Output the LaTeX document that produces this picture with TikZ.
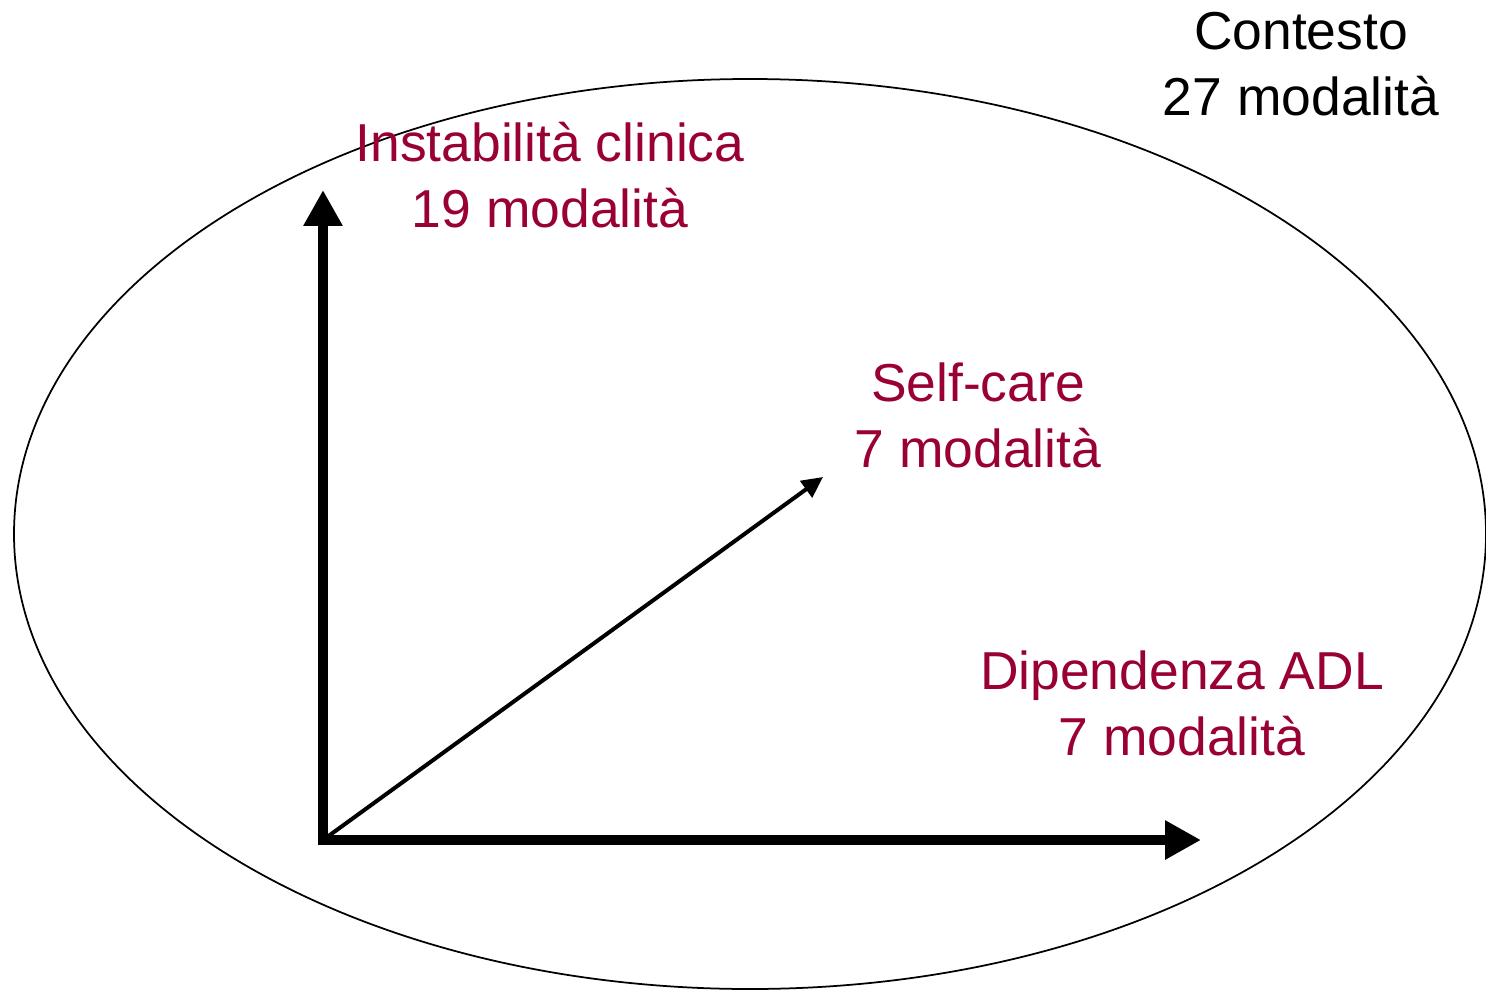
\documentclass[tikz,border=0pt]{standalone}
\usepackage{fontspec}
\setmainfont{Liberation Sans}
\usetikzlibrary{arrows.meta}
\definecolor{wine}{RGB}{153,0,51}
\tikzset{
  axis/.style={line width=0.2cm, -{Triangle[length=0.72cm,width=0.74cm]}},
  diag/.style={line width=0.08cm, -{Triangle[length=0.42cm,width=0.4cm]}},
  lbl/.style={align=center, font=\fontsize{30.4}{37.5}\selectfont, inner sep=0pt},
}
\begin{document}
\begin{tikzpicture}[x=0.02cm, y=-0.02cm]
  \useasboundingbox (0,0) rectangle (1486,990);
  % surrounding context
  \draw[line width=0.035cm] (750,534) ellipse [x radius=736, y radius=455];
  % axes
  \coordinate (o) at (323,840);
  \coordinate (top) at (323,190);
  \coordinate (right) at (1201,840);
  \coordinate (sc) at (823,477);
  \draw[axis] ([yshift=-0.1cm]o) -- (top);
  \draw[axis] ([xshift=-0.1cm]o) -- (right);
  \draw[diag] (o) -- (sc);
  % labels
  \node[lbl] (ctx) at (1301,64) {Contesto\\27 modalità};
  \node[lbl, text=wine] (ins) at (550,175) {Instabilità clinica\\19 modalità};
  \node[lbl, text=wine] (self) at (978,415) {Self-care\\7 modalità};
  \node[lbl, text=wine] (adl) at (1182,703) {Dipendenza ADL\\7 modalità};
\end{tikzpicture}
\end{document}
